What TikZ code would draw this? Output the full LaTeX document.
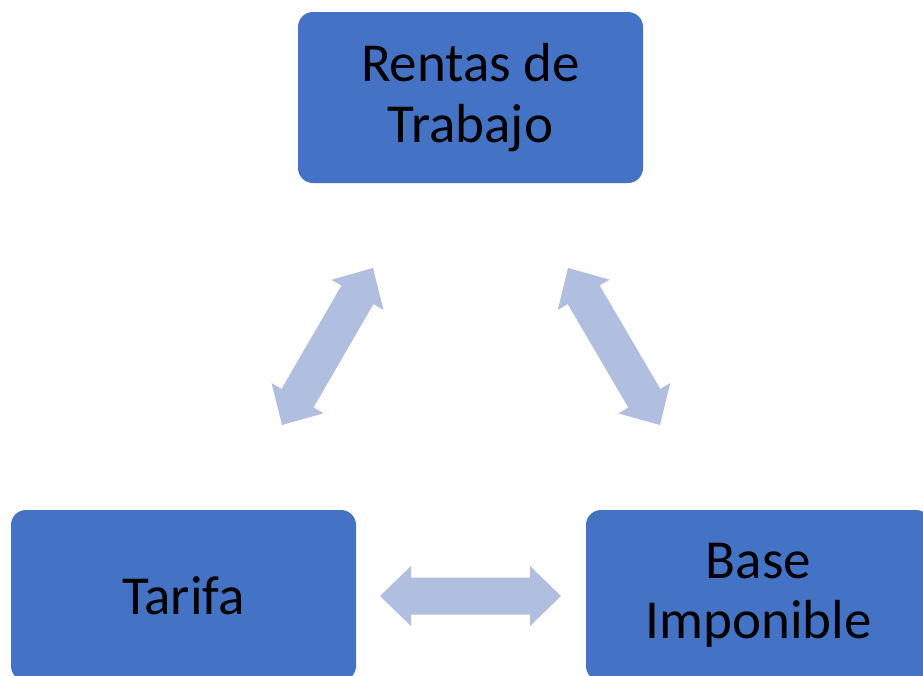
\documentclass[tikz,border=0pt]{standalone}
\usepackage{fontspec}
\setmainfont{Carlito}
\usetikzlibrary{calc}
\definecolor{boxblue}{HTML}{4472C4}
\definecolor{arrowblue}{HTML}{B0BEE0}
\tikzset{
  box/.style={fill=boxblue, draw=none, rounded corners=15pt, align=center,
    text=black, inner sep=0pt, minimum width=345pt, minimum height=171pt,
    font=\fontsize{55}{60.5}\selectfont},
  arrowfill/.style={fill=arrowblue, draw=none}
}
\newcommand\blockarrow[2]{%
  \fill[arrowfill] (#1)
    -- ($(#1)!31pt!(#2)!30pt!90:(#2)$)
    -- ($(#1)!31pt!(#2)!18.5pt!90:(#2)$)
    -- ($(#2)!31pt!(#1)!18.5pt!-90:(#1)$)
    -- ($(#2)!31pt!(#1)!30pt!-90:(#1)$)
    -- (#2)
    -- ($(#2)!31pt!(#1)!30pt!90:(#1)$)
    -- ($(#2)!31pt!(#1)!18.5pt!90:(#1)$)
    -- ($(#1)!31pt!(#2)!18.5pt!-90:(#2)$)
    -- ($(#1)!31pt!(#2)!30pt!-90:(#2)$)
    -- cycle;}
\begin{document}
\begin{tikzpicture}[x=1pt,y=-1pt]
\useasboundingbox (0,0) rectangle (923,675);
\clip (0,0) rectangle (923,675);
\node[box] (rentas) at (470.5,97.5) {Rentas de\\Trabajo};
\node[box] (tarifa) at (183.5,595.5) {Tarifa};
\node[box] (base) at (758.5,595.5) {Base\\Imponible};
\coordinate (l1) at (282,425);
\coordinate (l2) at (373,268);
\coordinate (r1) at (568,268);
\coordinate (r2) at (660,425);
\coordinate (h1) at (380,596);
\coordinate (h2) at (561,596);
\blockarrow{l1}{l2}
\blockarrow{r1}{r2}
\blockarrow{h1}{h2}
\end{tikzpicture}
\end{document}
